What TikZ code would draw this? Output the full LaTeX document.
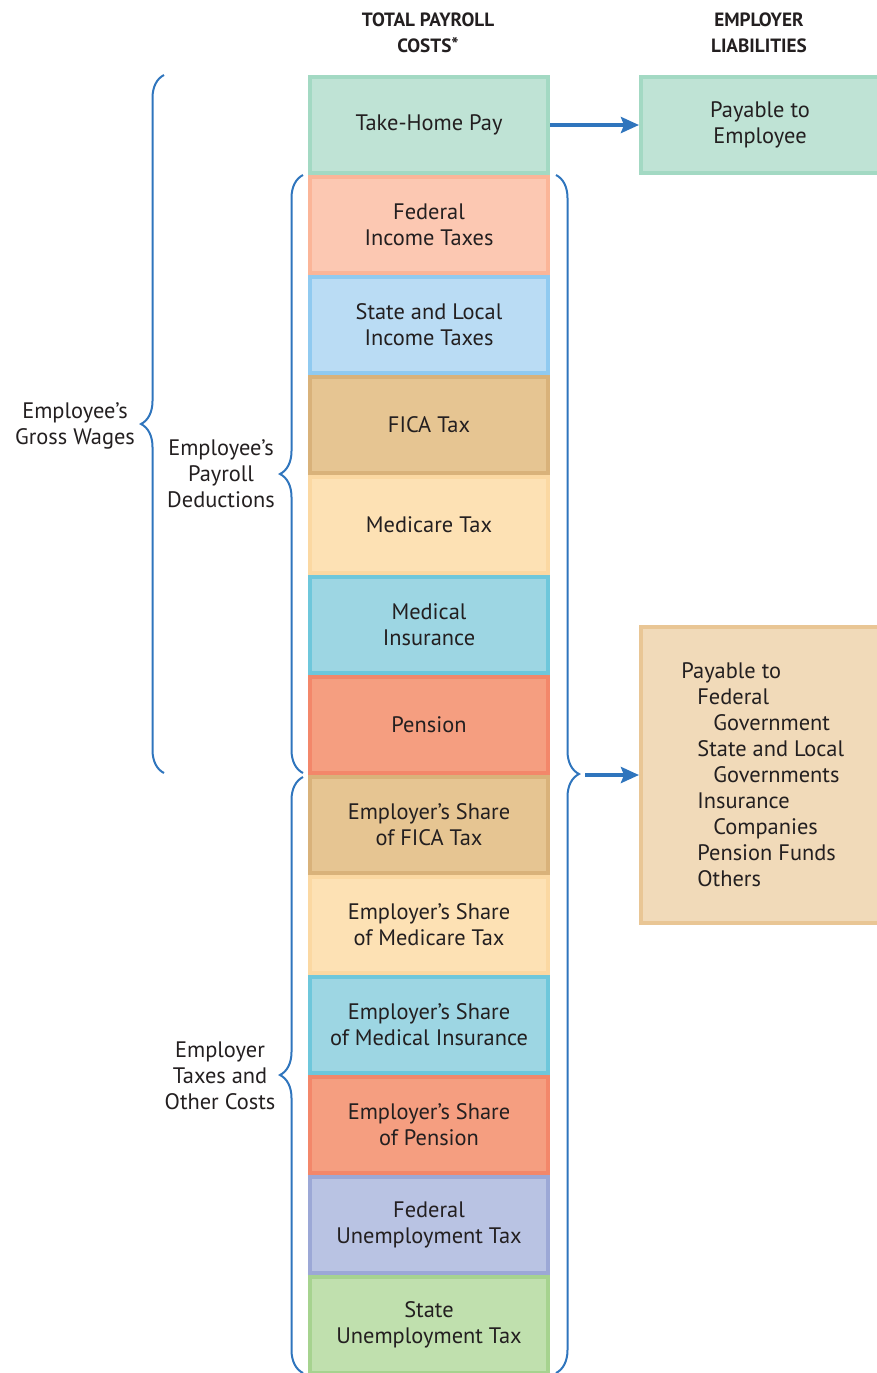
\documentclass[tikz,border=0pt]{standalone}
\usepackage{fontspec}
\setmainfont{PT Sans}
\usetikzlibrary{arrows.meta, positioning, decorations.pathreplacing}
\definecolor{inktext}{HTML}{231F20}
\definecolor{bracecol}{HTML}{2F75BD}
\definecolor{takefill}{HTML}{BFE3D5}
\definecolor{takedraw}{HTML}{A3D9C3}
\definecolor{fedfill}{HTML}{FCC8B2}
\definecolor{feddraw}{HTML}{FBB598}
\definecolor{statefill}{HTML}{BADCF4}
\definecolor{statedraw}{HTML}{90CAF0}
\definecolor{ficafill}{HTML}{E6C592}
\definecolor{ficadraw}{HTML}{D9B27A}
\definecolor{medifill}{HTML}{FDE1B4}
\definecolor{medidraw}{HTML}{FBD8A2}
\definecolor{insfill}{HTML}{9DD6E3}
\definecolor{insdraw}{HTML}{6EC7DB}
\definecolor{penfill}{HTML}{F59E80}
\definecolor{pendraw}{HTML}{F3876A}
\definecolor{futafill}{HTML}{B9C3E3}
\definecolor{futadraw}{HTML}{9CA8D6}
\definecolor{sutafill}{HTML}{C0E0AE}
\definecolor{sutadraw}{HTML}{A6D38F}
\definecolor{govfill}{HTML}{F1DAB9}
\definecolor{govdraw}{HTML}{E9C695}

\begin{document}
\begin{tikzpicture}[
    x=0.5pt, y=-0.5pt,
    every node/.style={font=\fontsize{11.2}{13}\selectfont, text=inktext},
    costbox/.style={
        rectangle,
        line width=2pt,
        minimum width=119pt,
        minimum height=48pt,
        inner sep=0pt,
        align=center
    },
    tallbox/.style={costbox, minimum height=148pt},
    headlabel/.style={font=\fontsize{9.6}{13}\selectfont\bfseries, align=center},
    sidelabel/.style={align=center},
    curly/.style={draw=bracecol, line width=1pt, decorate, decoration={brace, amplitude=11.5pt}},
    arrow/.style={-{Stealth[length=9pt, width=8pt, inset=1.5pt]}, line width=2pt, draw=bracecol}
]
\useasboundingbox (0,0) rectangle (877,1373);
\clip (0,0) rectangle (877,1373);

% HEADINGS
\node[headlabel] (hcost) at (428, 33) {TOTAL PAYROLL\\COSTS\raisebox{0.5pt}{*}};
\node[headlabel] (hliab) at (759, 33) {EMPLOYER\\LIABILITIES};

% PAYROLL COST COLUMN
\node[costbox, fill=takefill, draw=takedraw] (take) at (429, 125) {Take-Home Pay};
\node[costbox, fill=fedfill, draw=feddraw] (fedinc) at (429, 225) {Federal\\Income Taxes};
\node[costbox, fill=statefill, draw=statedraw] (stateinc) at (429, 325) {State and Local\\Income Taxes};
\node[costbox, fill=ficafill, draw=ficadraw] (fica) at (429, 425) {FICA Tax};
\node[costbox, fill=medifill, draw=medidraw] (medicare) at (429, 525) {Medicare Tax};
\node[costbox, fill=insfill, draw=insdraw] (medins) at (429, 625) {Medical\\Insurance};
\node[costbox, fill=penfill, draw=pendraw] (pension) at (429, 725) {Pension};
\node[costbox, fill=ficafill, draw=ficadraw] (erfica) at (429, 825) {Employer’s Share\\of FICA Tax};
\node[costbox, fill=medifill, draw=medidraw] (ermedicare) at (429, 925) {Employer’s Share\\of Medicare Tax};
\node[costbox, fill=insfill, draw=insdraw] (ermedins) at (429, 1025) {Employer’s Share\\of Medical Insurance};
\node[costbox, fill=penfill, draw=pendraw] (erpension) at (429, 1125) {Employer’s Share\\of Pension};
\node[costbox, fill=futafill, draw=futadraw] (futa) at (429, 1225) {Federal\\Unemployment Tax};
\node[costbox, fill=sutafill, draw=sutadraw] (suta) at (429, 1325) {State\\Unemployment Tax};

% LIABILITIES
\node[costbox, fill=takefill, draw=takedraw] (payemp) at (760, 125) {Payable to\\Employee};
\node[tallbox, fill=govfill, draw=govdraw] (govt) at (760, 775) {};
\node[anchor=west, align=left, inner sep=0pt] (govlist) at (681, 775) {Payable to\\
    \hspace*{8pt}Federal\\
    \hspace*{16pt}Government\\
    \hspace*{8pt}State and Local\\
    \hspace*{16pt}Governments\\
    \hspace*{8pt}Insurance\\
    \hspace*{16pt}Companies\\
    \hspace*{8pt}Pension Funds\\
    \hspace*{8pt}Others};

% SIDE LABELS
\node[sidelabel] (gross) at (75, 426) {Employee’s\\Gross Wages};
\node[sidelabel] (deduct) at (221, 474) {Employee’s\\Payroll\\Deductions};
\node[sidelabel] (ercost) at (220, 1076) {Employer\\Taxes and\\Other Costs};

% BRACES
\coordinate (grossTop) at (164, 75);
\coordinate (grossBot) at (164, 773);
\coordinate (dedTop) at (303, 175);
\coordinate (dedBot) at (303, 773);
\coordinate (erTop) at (303, 777);
\coordinate (erBot) at (303, 1373);
\coordinate (allTop) at (556, 175);
\coordinate (allBot) at (556, 1373);
\coordinate (allTip) at (585, 775);

\draw[curly] (grossBot) -- (grossTop);
\draw[curly] (dedBot) -- (dedTop);
\draw[curly] (erBot) -- (erTop);
\draw[curly] (allTop) -- (allBot);

% ARROWS
\draw[arrow] (take) -- (payemp);
\draw[arrow] (allTip) -- (govt.west);

\end{tikzpicture}
\end{document}
